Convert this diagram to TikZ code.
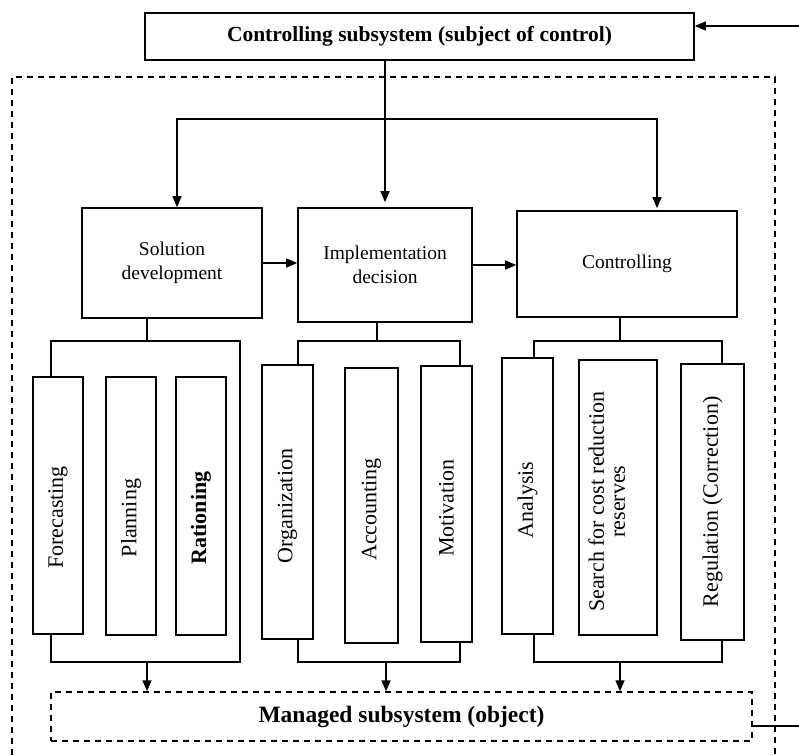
\documentclass[tikz,border=0pt]{standalone}
\usepackage{fontspec}
\setmainfont{Liberation Serif}
\usetikzlibrary{arrows.meta}

% vertical label, pushed down along the strip by #1
\newcommand{\vlabel}[2]{\rotatebox{90}{#2\hspace{#1}}}

\begin{document}
\begin{tikzpicture}[x=1pt,y=-1pt,
  >={Triangle[length=11pt,width=9pt]},
  block/.style={draw, line width=1.6pt, inner sep=0pt, align=center, font=\fontsize{19.5}{24}\selectfont},
  strip/.style={draw, line width=1.5pt, inner sep=0pt, font=\fontsize{22}{22}\selectfont},
  line/.style={line width=1.4pt},
  frame/.style={line width=1.4pt, dash pattern=on 6pt off 5pt}]
\useasboundingbox (0,0) rectangle (799,755);
\draw[frame] (12,755) -- (12,77) -- (775,77) -- (775,755);

\node[block, minimum width=549pt, minimum height=47pt, font=\bfseries\fontsize{21.5}{24}\selectfont] (top) at (419.5,36.5) {Controlling subsystem (subject of control)};
\node[block, minimum width=180pt, minimum height=110pt] (sol) at (172,263) {Solution\\development};
\node[block, minimum width=174pt, minimum height=114pt] (impl) at (385,265) {Implementation\\decision};
\node[block, minimum width=220pt, minimum height=106pt] (ctrl) at (627,264) {Controlling};

\node[strip, minimum width=50pt, minimum height=257pt] (fore) at (58,505.5) {\vlabel{24pt}{Forecasting}};
\node[strip, minimum width=50pt, minimum height=258pt] (plan) at (131,506) {\vlabel{24pt}{Planning}};
\node[strip, minimum width=50pt, minimum height=258pt, font=\bfseries\fontsize{22}{22}\selectfont] (ration) at (201,506) {\vlabel{24pt}{Rationing}};
\node[strip, minimum width=51pt, minimum height=274pt] (org) at (287.5,502) {\vlabel{8pt}{Organization}};
\node[strip, minimum width=53pt, minimum height=275pt] (acct) at (371.5,505.5) {\vlabel{8pt}{Accounting}};
\node[strip, minimum width=51pt, minimum height=276pt] (motiv) at (446.5,504) {\vlabel{8pt}{Motivation}};
\node[strip, minimum width=51pt, minimum height=276pt] (anal) at (527.5,496) {\vlabel{8pt}{Analysis}};
\node[strip, minimum width=78pt, minimum height=275pt] (search) at (618,497.5) {\vlabel{8pt}{\raisebox{8pt}[\height][\depth]{\begin{tabular}{@{}c@{}}Search for cost reduction\\[-1pt] reserves\end{tabular}}}};
\node[strip, minimum width=63pt, minimum height=276pt] (regul) at (712.5,502) {\vlabel{0pt}{Regulation (Correction)}};

\node[block, dash pattern=on 6pt off 5pt, line width=1.4pt, minimum width=701pt, minimum height=49pt, font=\bfseries\fontsize{23.5}{26}\selectfont] (managed) at (401.5,716.5) {Managed subsystem (object)};

% control flow from the top
\coordinate (fork) at (385,119);
\draw[line, ->, shorten >=5pt] (top.south -| impl.north) -- (impl.north);
\draw[line, ->] (fork) -| ([xshift=5pt]sol.north);
\draw[line, ->, shorten >=2pt] (fork) -| ([xshift=30pt]ctrl.north);
\draw[line, ->] (sol.east) -- (sol.east -| impl.west);
\draw[line, ->] (impl.east) -- (impl.east -| ctrl.west);

% feedback
\coordinate (in) at (799,26);
\coordinate (out) at (799,726);
\draw[line, ->] (in) -- (in -| top.east);
\draw[line] (managed.east |- out) -- (out);

% groups
\coordinate (s1) at (147,341);
\coordinate (l1) at (51,341);
\coordinate (r1) at (240,341);
\coordinate (b1) at (147,662);
\draw[line] (s1 |- sol.south) -- (s1);
\draw[line] (fore.north -| l1) -- (l1) -- (r1) -- (r1 |- b1) -- (b1 -| l1) -- (fore.south -| l1);
\draw[line, ->] (b1) -- (b1 |- managed.north);

\coordinate (s2) at (377,341);
\coordinate (l2) at (298,341);
\coordinate (r2) at (460,341);
\coordinate (b2) at (386,662);
\draw[line] (s2 |- impl.south) -- (s2);
\draw[line] (org.north -| l2) -- (l2) -- (r2) -- (motiv.north -| r2);
\draw[line] (org.south -| l2) -- (b2 -| l2) -- (b2 -| r2) -- (motiv.south -| r2);
\draw[line, ->] (b2) -- (b2 |- managed.north);

\coordinate (s3) at (620,341);
\coordinate (l3) at (534,341);
\coordinate (r3) at (722,341);
\coordinate (b3) at (620,662);
\draw[line] (s3 |- ctrl.south) -- (s3);
\draw[line] (anal.north -| l3) -- (l3) -- (r3) -- (regul.north -| r3);
\draw[line] (anal.south -| l3) -- (b3 -| l3) -- (b3 -| r3) -- (regul.south -| r3);
\draw[line, ->] (b3) -- (b3 |- managed.north);
\end{tikzpicture}
\end{document}
